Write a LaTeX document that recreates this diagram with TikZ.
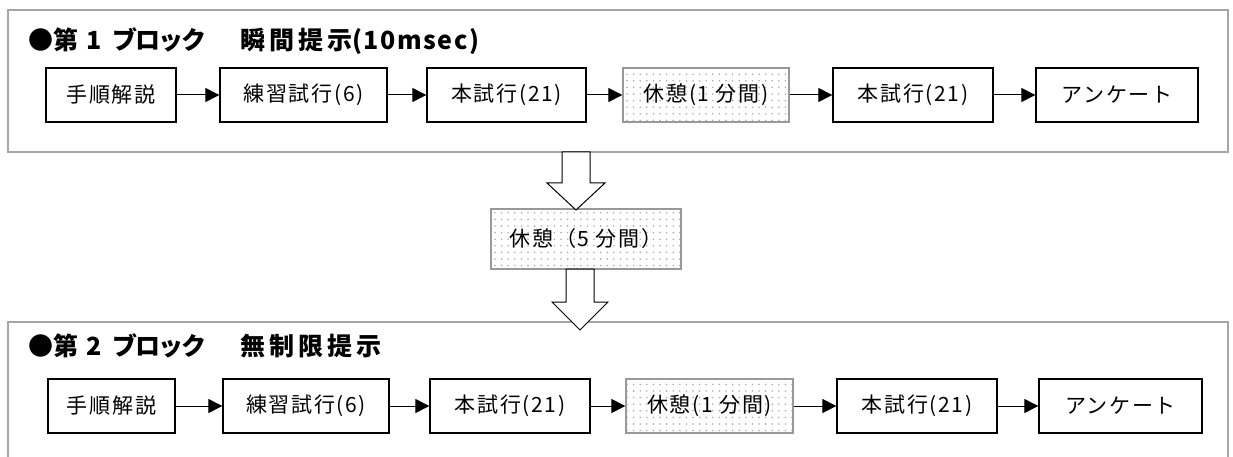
\documentclass[tikz,border=0pt]{standalone}
\usepackage{fontspec}
\newfontfamily\jp[LetterSpace=8]{Noto Sans CJK JP}
\newfontfamily\tA{Noto Sans CJK JP}
\newfontfamily\tK[LetterSpace=-8]{Noto Sans CJK JP}
\newfontfamily\tW[LetterSpace=16]{Noto Sans CJK JP}
\newfontfamily\tL[LetterSpace=6]{Noto Sans CJK JP}
\usetikzlibrary{arrows.meta,patterns.meta}
\begin{document}
\begin{tikzpicture}[x=1pt,y=-1pt,
  every node/.style={font=\jp\fontsize{21}{24}\selectfont},
  stepbox/.style={draw=black,line width=1.3pt,minimum height=54pt,inner sep=0pt,anchor=center},
  restbox/.style={draw=black!40,line width=1.3pt,minimum height=54pt,inner sep=0pt,anchor=center,
    pattern={Dots[distance=6.6pt,radius=0.9pt]},pattern color=black!32},
  panel/.style={draw=black!35,line width=1.5pt},
  arr/.style={line width=1pt,-{Triangle[length=14pt,width=14pt]}},
  bigarrow/.style={draw=black,line width=1pt,fill=white},
  title/.style={font=\bfseries\fontsize{25}{28}\selectfont,anchor=west,inner sep=0pt}]
\useasboundingbox (0,0) rectangle (1233,457);
% panels
\draw[panel] (8,10) rectangle (1228,152);
\draw[panel] (8,470) -- (8,322) -- (1228,322) -- (1228,470);
\node[title] (t1) at (28,41) {{\tA ●第}\hspace{8pt}{\tA 1}\hspace{11pt}{\tK ブロック}\hspace{34pt}{\tW 瞬間提示}{\tL (10msec)}};
\node[title] (t2) at (28,346) {{\tA ●第}\hspace{8pt}{\tA 2}\hspace{11pt}{\tK ブロック}\hspace{34pt}{\tW 無制限提示}};
% top row
\node[stepbox,minimum width=130pt] (b1) at (111,95) {手順解説\hspace{8pt}};
\node[stepbox,minimum width=167pt] (b2) at (303.5,95) {練習試行(6)\hspace{4pt}};
\node[stepbox,minimum width=159pt] (b3) at (506.5,95) {本試行(21)\hspace{4pt}};
\node[restbox,minimum width=166pt] (b4) at (706,95) {休憩(1 分間)};
\node[stepbox,minimum width=160pt] (b5) at (913,95) {本試行(21)\hspace{4pt}};
\node[stepbox,minimum width=162pt] (b6) at (1117,95) {アンケート\hspace{8pt}};
\draw[arr] (b1) -- (b2);
\draw[arr] (b2) -- (b3);
\draw[arr] (b3) -- (b4);
\draw[arr] (b4) -- (b5);
\draw[arr] (b5) -- (b6);
% bottom row
\node[stepbox,minimum width=127pt] (c1) at (111.5,406) {手順解説\hspace{8pt}};
\node[stepbox,minimum width=166pt] (c2) at (306,406) {練習試行(6)\hspace{4pt}};
\node[stepbox,minimum width=160pt] (c3) at (510,406) {本試行(21)\hspace{4pt}};
\node[restbox,minimum width=167pt] (c4) at (709.5,406) {休憩(1 分間)};
\node[stepbox,minimum width=160pt] (c5) at (917,406) {本試行(21)\hspace{4pt}};
\node[stepbox,minimum width=163pt] (c6) at (1120.5,406) {アンケート\hspace{8pt}};
\draw[arr] (c1) -- (c2);
\draw[arr] (c2) -- (c3);
\draw[arr] (c3) -- (c4);
\draw[arr] (c4) -- (c5);
\draw[arr] (c5) -- (c6);
% rest between blocks
\node[restbox,minimum width=190pt,minimum height=60pt] (r) at (586,239) {休憩（5 分間）};
% big arrows
\draw[bigarrow] (562,152) -- (590,152) -- (590,183) -- (605,183) -- (576,210) -- (547,183) -- (562,183) -- cycle;
\draw[bigarrow] (566,269) -- (594,269) -- (594,302) -- (608,302) -- (580,330) -- (552,302) -- (566,302) -- cycle;
\end{tikzpicture}
\end{document}
